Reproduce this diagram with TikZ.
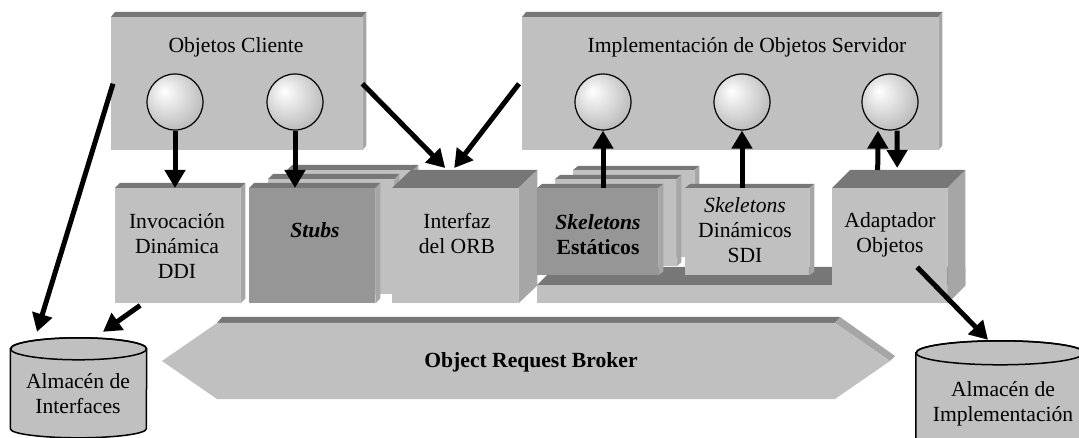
\documentclass[tikz,border=0pt]{standalone}
\usepackage{fontspec}
\setmainfont{Liberation Serif}
\usepackage{tikz}
\usetikzlibrary{arrows.meta,calc}
\definecolor{face}{HTML}{C0C0C0}
\definecolor{darkface}{HTML}{969696}
\definecolor{roof}{HTML}{777777}
\definecolor{wall}{HTML}{A6A6A6}
\pgfdeclareradialshading{orbball}{\pgfpoint{-10bp}{10bp}}{color(0bp)=(white);color(8bp)=(white!93!black);color(32bp)=(white!72!black);color(55bp)=(white!60!black)}
% top and right faces of a block
\newcommand{\boxsides}[3]{%
  \fill[roof] (#1.north west) -- ++(#2,-#3) -- ([shift={(#2,-#3)}]#1.north east) -- (#1.north east) -- cycle;
  \fill[wall] (#1.north east) -- ++(#2,-#3) -- ([shift={(#2,-#3)}]#1.south east) -- (#1.south east) -- cycle;}

\begin{document}
\begin{tikzpicture}[x=1pt,y=-1pt,>={Triangle[length=18pt,width=20pt]},
  block/.style={fill=face,inner sep=0pt,anchor=north west},
  darkblock/.style={block,fill=darkface},
  ball/.style={circle,draw,line width=1.2pt,minimum size=56pt,inner sep=0pt,shade,shading=orbball},
  txt/.style={align=center,inner sep=0pt,font=\fontsize{21.6}{25}\selectfont},
  flow/.style={->,line width=5pt},
  store/.style={draw,line width=1.5pt,fill=face}]
\useasboundingbox (0,0) rectangle (1079,438);
\clip (0,0) rectangle (1079,438);

% objetos cliente y servidor
\node[block,minimum width=251,minimum height=133] (cli) at (111,17) {};
\boxsides{cli}{4}{5}
\node[txt] (cli-t) at (236,47) {Objetos Cliente};
\node[block,minimum width=416,minimum height=133] (srv) at (522,17) {};
\boxsides{srv}{4}{5}
\node[txt] (srv-t) at (747,47) {Implementación de Objetos Servidor};
\node[ball] (s1) at (175,102) {};
\node[ball] (s2) at (295,102) {};
\node[ball] (s3) at (603,102) {};
\node[ball] (s4) at (742,102) {};
\node[ball] (s5) at (890,102) {};

% lado cliente
\node[block,minimum width=125,minimum height=115] (ddi) at (115,188) {};
\boxsides{ddi}{5}{5}
\node[txt] (ddi-t) at (177,246) {Invocación\\Dinámica\\DDI};
\node[block,minimum width=126,minimum height=115] (stubs3) at (287,170) {};
\boxsides{stubs3}{5}{5}
\node[block,minimum width=126,minimum height=115] (stubs2) at (268,179) {};
\boxsides{stubs2}{5}{5}
\node[darkblock,minimum width=126,minimum height=115] (stubs) at (249,188) {};
\boxsides{stubs}{5}{5}
\node[txt] (stubs-t) at (315,230) {\bfseries\itshape Stubs};
\node[block,minimum width=126,minimum height=115] (ifz) at (392,188) {};
\boxsides{ifz}{19}{18}
\node[txt] (ifz-t) at (457,234) {Interfaz\\del ORB};

% lado servidor
\node[block,minimum width=410,minimum height=18] (plat) at (537,285) {};
\boxsides{plat}{18}{18}
\node[block,minimum width=121,minimum height=87] (ske3) at (573,170) {};
\boxsides{ske3}{5}{4}
\node[block,minimum width=121,minimum height=87] (ske2) at (555,179) {};
\boxsides{ske2}{5}{4}
\node[darkblock,minimum width=121,minimum height=87] (ske) at (537,188) {};
\boxsides{ske}{5}{4}
\node[txt] (ske-t) at (598,235) {{\bfseries\itshape Skeletons}\\{\bfseries Estáticos}};
\node[block,minimum width=124,minimum height=87] (skd) at (685,188) {};
\boxsides{skd}{5}{4}
\node[txt] (skd-t) at (745,230) {{\itshape Skeletons}\\Dinámicos\\SDI};
\node[block,minimum width=115,minimum height=115] (ada) at (832,188) {};
\boxsides{ada}{18}{18}
\node[txt] (ada-t) at (890,235) {Adaptador\\Objetos};

% bus del ORB
\fill[roof] (217,323) -- (222,317) -- (840,317) -- (835,323) -- cycle;
\fill[wall] (835,323) -- (840,317) -- (895,356) -- (890,361) -- cycle;
\fill[face] (162,361) -- (217,323) -- (835,323) -- (890,361) -- (835,399) -- (217,399) -- cycle;
\node[txt] (orb) at (531,362) {\bfseries Object Request Broker};

% almacenes
\node[inner sep=0pt,minimum width=136,minimum height=112] (almint) at (78.5,394) {};
\filldraw[store] ([shift={(0,11)}]almint.north west) -- ++(0,80)
  arc[start angle=180,end angle=0,x radius=68,y radius=9]
  -- ([shift={(0,11)}]almint.north east)
  arc[start angle=0,end angle=-180,x radius=68,y radius=11] -- cycle;
\draw[line width=1.5pt] ([shift={(0,11)}]almint.north) ellipse[x radius=68,y radius=11];
\node[txt] (almint-t) at (78,394) {Almacén de\\Interfaces};
\node[inner sep=0pt,minimum width=168,minimum height=126] (almimp) at (1000,404) {};
\filldraw[store] ([shift={(0,12)}]almimp.north west) -- ++(0,90)
  arc[start angle=180,end angle=0,x radius=84,y radius=9]
  -- ([shift={(0,12)}]almimp.north east)
  arc[start angle=0,end angle=-180,x radius=84,y radius=12] -- cycle;
\draw[line width=1.5pt] ([shift={(0,12)}]almimp.north) ellipse[x radius=84,y radius=12];
\node[txt] (almimp-t) at (1003,404) {Almacén de\\Implementación};

% flechas
\draw[flow] (s1.south) -- (s1.south |- ddi.north);
\draw[flow] (s2.south) -- (s2.south |- stubs.north);
\draw[flow] (cli.east) -- ($(ifz.north)+(-10,-20)$);
\draw[flow] ($(srv.west)+(-3,0)$) -- ($(ifz.north)+(-1,-20)$);
\draw[flow] ($(cli.west)+(2,0)$) -- ($(almint.north)+(-41.5,-6)$);
\draw[flow] ($(ddi.south)+(-37.5,2)$) -- ($(almint.north)+(24.5,-6)$);
\draw[flow] (s3.south |- ske.north) -- (s3.south);
\draw[flow] (s4.south |- skd.north) -- (s4.south);
\draw[flow] ($(ada.north)+(-12,-18)$) -- ($(s5.south)+(-12,0)$);
\draw[flow] ($(s5.south)+(7,0)$) -- ($(ada.north)+(7.5,-20)$);
\draw[flow] ($(ada.center)+(27.5,21.5)$) -- ($(almimp.north)+(-12,-1)$);
\end{tikzpicture}
\end{document}
